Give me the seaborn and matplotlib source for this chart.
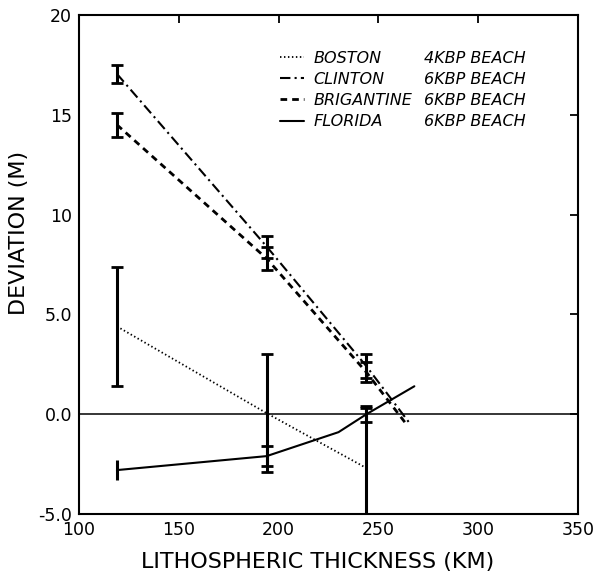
import matplotlib
matplotlib.use("Agg")
import matplotlib.pyplot as plt
import seaborn as sns
import pandas as pd
from matplotlib.lines import Line2D

sns.set_theme(style="white")
plt.rcParams["font.family"] = ["DejaVu Sans"]
plt.rcParams["text.color"] = "black"
plt.rcParams["axes.labelcolor"] = "black"
plt.rcParams["xtick.color"] = "black"
plt.rcParams["ytick.color"] = "black"

# Lithospheric thickness (km) and deviation (m) for each beach record
boston_x = [119, 194, 244]
boston_y = [4.4, 0.05, -2.7]
boston_err = [3.0, 2.95, 3.0]

clinton_x = [119, 194, 244, 266]
clinton_y = [17.05, 8.4, 2.4, -0.5]
clinton_err = [0.45, 0.55, 0.6]

brigantine_x = [119, 194, 244, 264]
brigantine_y = [14.5, 7.8, 2.1, -0.5]
brigantine_err = [0.6, 0.6, 0.5]

florida_x = [119, 194, 230, 244, 268]
florida_y = [-2.8, -2.1, -0.9, 0.0, 1.4]
florida_err = [0.5, 0.5, None, 0.4]

site_names = ["BOSTON", "CLINTON", "BRIGANTINE", "FLORIDA"]
beach_ages = ["4KBP BEACH", "6KBP BEACH", "6KBP BEACH", "6KBP BEACH"]

x_ticks = [100, 150, 200, 250, 300, 350]
y_ticks = [-5, 0, 5, 10, 15, 20]
y_tick_labels = ["-5.0", "0.0", "5.0", "10", "15", "20"]

series = {
    "BOSTON": (boston_x, boston_y, boston_err),
    "CLINTON": (clinton_x, clinton_y, clinton_err),
    "BRIGANTINE": (brigantine_x, brigantine_y, brigantine_err),
    "FLORIDA": (florida_x, florida_y, florida_err),
}

frames = []
for name, (xs, ys, _) in series.items():
    frames.append(pd.DataFrame({"thickness": xs, "deviation": ys, "site": name}))
df = pd.concat(frames, ignore_index=True)

dash_map = {
    "BOSTON": (0.8, 1.4),
    "CLINTON": (5.0, 2.0, 1.0, 2.0),
    "BRIGANTINE": (2.4, 1.8),
    "FLORIDA": "",
}
width_map = {"BOSTON": 1.3, "CLINTON": 1.5, "BRIGANTINE": 2.0, "FLORIDA": 1.5}

fig = plt.figure(figsize=(6.12, 5.8), dpi=100)
ax = fig.add_axes([0.1291, 0.1138, 0.8154, 0.8603])

ax.axhline(0, color="black", lw=1.1, zorder=1)

for name in site_names:
    sub = df[df["site"] == name]
    sns.lineplot(data=sub, x="thickness", y="deviation", ax=ax, color="black",
                 sort=False, legend=False, lw=width_map[name],
                 dashes=[dash_map[name]] if dash_map[name] else False,
                 style="site" if dash_map[name] else None)

# error bars on the measured points
for name, (xs, ys, errs) in series.items():
    for i, e in enumerate(errs):
        if e is None:
            continue
        cap = 0 if (name == "FLORIDA" and i == 0) else 4.5
        ax.errorbar([xs[i]], [ys[i]], yerr=[e], fmt="none", ecolor="black",
                    elinewidth=2.2, capsize=cap, capthick=2.0, zorder=3,
                    clip_on=True)

ax.set_xlim(100, 350)
ax.set_ylim(-5, 20)
ax.set_xticks(x_ticks)
ax.set_yticks(y_ticks)
ax.set_yticklabels(y_tick_labels)
ax.tick_params(direction="in", length=6, width=1.3, top=True, right=True,
               labelsize=12.5, colors="black", pad=5)
for sp in ax.spines.values():
    sp.set_color("black")
    sp.set_linewidth(1.5)

ax.set_xlabel("LITHOSPHERIC THICKNESS (KM)", fontsize=16)
ax.set_ylabel("DEVIATION (M)", fontsize=16)
ax.xaxis.set_label_coords(0.478, -0.076)
ax.yaxis.set_label_coords(-0.10, 0.564)

# legend: line samples with site names, second column with beach ages
handles = [Line2D([], [], color="black", lw=width_map[n],
                  linestyle=(0, dash_map[n]) if dash_map[n] else "-")
           for n in site_names]
font = {"style": "italic", "size": 11.5}
leg1 = ax.legend(handles, site_names, loc="upper left",
                 bbox_to_anchor=(0.402, 0.928), frameon=False, prop=font,
                 handlelength=1.5, handletextpad=0.6, labelspacing=0.38,
                 borderpad=0, borderaxespad=0)
ax.add_artist(leg1)
blank = [Line2D([], [], color="none") for _ in site_names]
ax.legend(blank, beach_ages, loc="upper left", bbox_to_anchor=(0.692, 0.928),
          frameon=False, prop=font, handlelength=0, handletextpad=0,
          labelspacing=0.38, borderpad=0, borderaxespad=0)

fig.savefig("out.png", dpi=100, facecolor="white")
